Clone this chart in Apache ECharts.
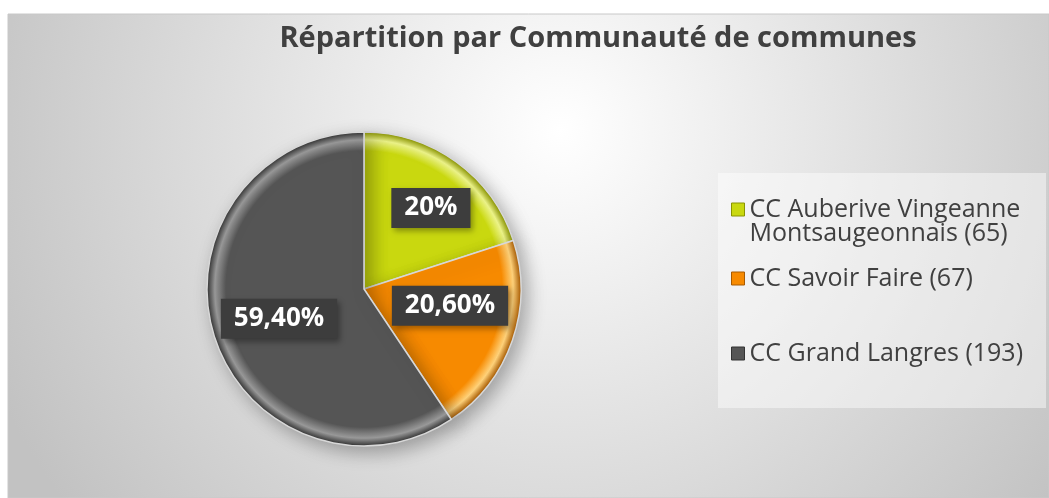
<!DOCTYPE html>
<html>
<head>
<meta charset="utf-8">
<script src="https://cdn.jsdelivr.net/npm/echarts@6/dist/echarts.min.js"></script>
<style>
  html, body { margin: 0; padding: 0; background: #ffffff; }
  #chart { width: 1049px; height: 498px; }
</style>
</head>
<body>
<div id="chart"></div>
<script>
// données
const communautes = ['CC Auberive Vingeanne Montsaugeonnais', 'CC Savoir Faire', 'CC Grand Langres'];
const effectifs = [65, 67, 193];
const pourcentages = ['20%', '20,60%', '59,40%'];

const baseColors = ['#c9d80f', '#f78a00', '#555555'];
const lightColors = ['#eef58a', '#ffd27a', '#9a9a9a'];
const darkColors = ['#8a9400', '#a85a00', '#333333'];

const cx = 364, cy = 289, radius = 157;

function sliceGradient(i) {
  return {
    type: 'radial', x: cx, y: cy, r: radius, global: true,
    colorStops: [
      { offset: 0, color: baseColors[i] },
      { offset: 0.88, color: baseColors[i] },
      { offset: 0.95, color: lightColors[i] },
      { offset: 1, color: darkColors[i] }
    ]
  };
}

// petit décalage des étiquettes pour coller à la position d'origine
const labelShift = [[19, -15], [9, -10], [-7, 6]];

const chart = echarts.init(document.getElementById('chart'));

const legendTops = [197, 266, 341];
// la première icône est calée sur la première ligne du texte
const legendIcons = ['path://M0,0h13v13h-13zM0,37', 'rect', 'rect'];
const legendIconH = [37, 13, 13];

const option = {
  animation: false,
  title: {
    text: 'Répartition par Communauté de communes',
    left: 598,
    top: 24,
    padding: 0,
    textAlign: 'center',
    textStyle: {
      fontFamily: 'Open Sans',
      fontWeight: 'bold',
      fontSize: 29,
      color: '#404040'
    }
  },
  graphic: [
    {
      type: 'rect',
      z: -10,
      shape: { x: 8, y: 14, width: 1041, height: 484 },
      style: {
        fill: {
          type: 'radial', x: 560, y: 130, r: 620, global: true,
          colorStops: [
            { offset: 0, color: '#ffffff' },
            { offset: 1, color: '#c2c2c2' }
          ]
        },
        stroke: '#c8c8c8',
        lineWidth: 1
      }
    },
    {
      type: 'rect',
      z: -9,
      shape: { x: 718, y: 173, width: 328, height: 235 },
      style: { fill: 'rgba(255,255,255,0.45)' }
    }
  ],
  legend: communautes.map(function (name, i) {
    return {
      data: [{ name: name, itemStyle: { color: baseColors[i], borderColor: darkColors[i], borderWidth: 1 } }],
      orient: 'vertical',
      left: 731,
      top: legendTops[i],
      padding: 0,
      icon: legendIcons[i],
      itemWidth: 13,
      itemHeight: legendIconH[i],
      itemGap: 0,
      selectedMode: false,
      formatter: function (n) {
        return n + ' (' + effectifs[communautes.indexOf(n)] + ')';
      },
      textStyle: {
        fontFamily: 'Open Sans',
        fontSize: 25,
        lineHeight: 24,
        color: '#404040',
        width: 300,
        overflow: 'break'
      }
    };
  }),
  series: [
    {
      type: 'pie',
      center: [cx, cy],
      radius: radius,
      startAngle: 90,
      clockwise: true,
      avoidLabelOverlap: false,
      data: communautes.map(function (name, i) {
        return {
          name: name,
          value: effectifs[i],
          itemStyle: { color: sliceGradient(i) }
        };
      }),
      itemStyle: {
        borderColor: '#d8d8d8',
        borderWidth: 1.5,
        shadowBlur: 18,
        shadowOffsetX: 6,
        shadowOffsetY: 6,
        shadowColor: 'rgba(0,0,0,0.3)'
      },
      label: {
        show: true,
        position: 'inside',
        formatter: function (p) { return pourcentages[p.dataIndex]; },
        fontFamily: 'Open Sans',
        fontWeight: 'bold',
        fontSize: 26,
        color: '#ffffff',
        backgroundColor: '#3d3d3d',
        padding: [8, 13, 6, 13],
        shadowBlur: 6,
        shadowOffsetX: 3,
        shadowOffsetY: 3,
        shadowColor: 'rgba(0,0,0,0.35)'
      },
      labelLayout: function (params) {
        return { dx: labelShift[params.dataIndex][0], dy: labelShift[params.dataIndex][1] };
      },
      labelLine: { show: false },
      emphasis: { disabled: true }
    }
  ]
};

chart.setOption(option);
</script>
</body>
</html>
